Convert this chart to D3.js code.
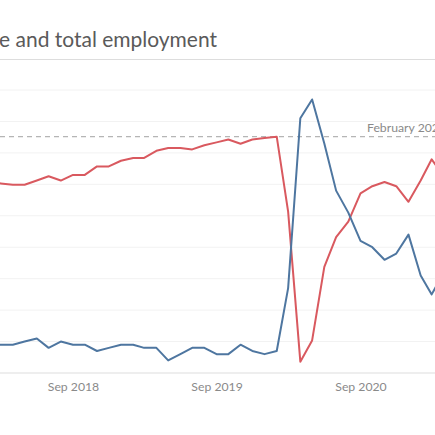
<!DOCTYPE html>
<html>
<head>
<meta charset="utf-8">
<script src="https://cdn.jsdelivr.net/npm/d3@7"></script>
<style>
  body { margin: 0; background: #fff; }
  svg { display: block; font-family: Lato, "Open Sans", sans-serif; }
</style>
</head>
<body>
<svg width="435" height="435"></svg>
<script>
// месяцы: февраль 2018 - апрель 2021
const months = d3.timeMonths(new Date(2018, 1, 1), new Date(2021, 4, 1));

// уровень безработицы, %
const unemployment = [
    5.9, 5.9, 5.9, 6.0, 6.1, 5.8, 6.0, 5.9, 5.9, 5.7, 5.8,
    5.9, 5.9, 5.8, 5.8, 5.4, 5.6, 5.8, 5.8, 5.6, 5.6, 5.9, 5.7,
    5.6, 5.7, 7.7, 13.1, 13.7, 12.3, 10.8, 10.1, 9.2, 9.0, 8.6, 8.8,
    9.4, 8.1, 7.5, 8.2
];

// общая занятость, индекс (февраль 2020 = 100)
const employment = [
    96.8, 96.7, 96.6, 96.6, 96.9, 97.2, 96.9, 97.3, 97.3, 97.9, 97.9,
    98.3, 98.5, 98.5, 99.0, 99.2, 99.2, 99.1, 99.4, 99.6, 99.8, 99.5, 99.8,
    99.9, 100.0, 94.7, 84.1, 85.6, 90.8, 92.9, 94.0, 96.0, 96.5, 96.8, 96.5,
    95.4, 96.9, 98.4, 97.2
];

const tickDates = [new Date(2018, 8, 1), new Date(2019, 8, 1), new Date(2020, 8, 1)];
const tickLabels = ["Sep 2018", "Sep 2019", "Sep 2020"];
const refValue = 100;
const refLabel = "February 2020";
const title = "Unemployment rate and total employment";

const svg = d3.select("svg");
const width = +svg.attr("width");

const plotTop = 90, plotBottom = 373;

// ось x - непрерывное время
const x = d3.scaleTime()
    .domain([tickDates[0], tickDates[2]])
    .range([73, 360.5]);

// две оси y: безработица и занятость
const yRate = d3.scaleLinear().domain([5, 14]).range([plotBottom, plotTop]);
const yEmp = d3.scaleLinear().domain([83.3, 103.3]).range([plotBottom, plotTop]);

// подгоняем размер шрифта под нужную ширину текста
function fitSize(sel, str, target) {
    const probe = sel.append("text").attr("font-size", 20).text(str);
    const w = probe.node().getComputedTextLength();
    probe.remove();
    return 20 * target / w;
}

// заголовок и линия под ним
const titleSize = fitSize(svg, "e and total employment", 218);
svg.append("text")
    .attr("x", 217).attr("y", 46.5)
    .attr("text-anchor", "end")
    .attr("fill", "#5a5a5a")
    .attr("font-size", titleSize)
    .text(title);

svg.append("line")
    .attr("x1", 0).attr("x2", width)
    .attr("y1", 59.5).attr("y2", 59.5)
    .attr("stroke", "#ddd");

// горизонтальная сетка
svg.append("g")
    .selectAll("line")
    .data(d3.range(6, 15))
    .join("line")
    .attr("x1", 0).attr("x2", width)
    .attr("y1", d => yRate(d)).attr("y2", d => yRate(d))
    .attr("stroke", "#f2f2f2");

// ось x
const tickSize = fitSize(svg, "Sep 2019", 51.5);
const xAxis = svg.append("g")
    .attr("transform", `translate(0,${plotBottom})`)
    .call(d3.axisBottom(x)
        .tickValues(tickDates)
        .tickFormat((d, i) => tickLabels[i])
        .tickSize(0)
        .tickPadding(9));
xAxis.select(".domain").attr("stroke", "#ddd").attr("d", `M0,0H${width}`);
xAxis.selectAll("text")
    .attr("fill", "#8a8a8a")
    .attr("font-size", tickSize)
    .attr("font-family", "Lato, sans-serif");

// опорная линия - февраль 2020
svg.append("line")
    .attr("x1", 0).attr("x2", width)
    .attr("y1", yEmp(refValue)).attr("y2", yEmp(refValue))
    .attr("stroke", "#b5b5b5")
    .attr("stroke-width", 1.3)
    .attr("stroke-dasharray", "5,4");

svg.append("text")
    .attr("x", 367).attr("y", yEmp(refValue) - 5)
    .attr("fill", "#8a8a8a")
    .attr("font-size", tickSize)
    .text(refLabel);

// линии рядов
const lineRate = d3.line()
    .x((d, i) => x(months[i]))
    .y(d => yRate(d));

const lineEmp = d3.line()
    .x((d, i) => x(months[i]))
    .y(d => yEmp(d));

svg.append("path")
    .attr("d", lineEmp(employment))
    .attr("fill", "none")
    .attr("stroke", "#d9595f")
    .attr("stroke-width", 2)
    .attr("stroke-linejoin", "round");

svg.append("path")
    .attr("d", lineRate(unemployment))
    .attr("fill", "none")
    .attr("stroke", "#4e76a0")
    .attr("stroke-width", 2)
    .attr("stroke-linejoin", "round");
</script>
</body>
</html>
